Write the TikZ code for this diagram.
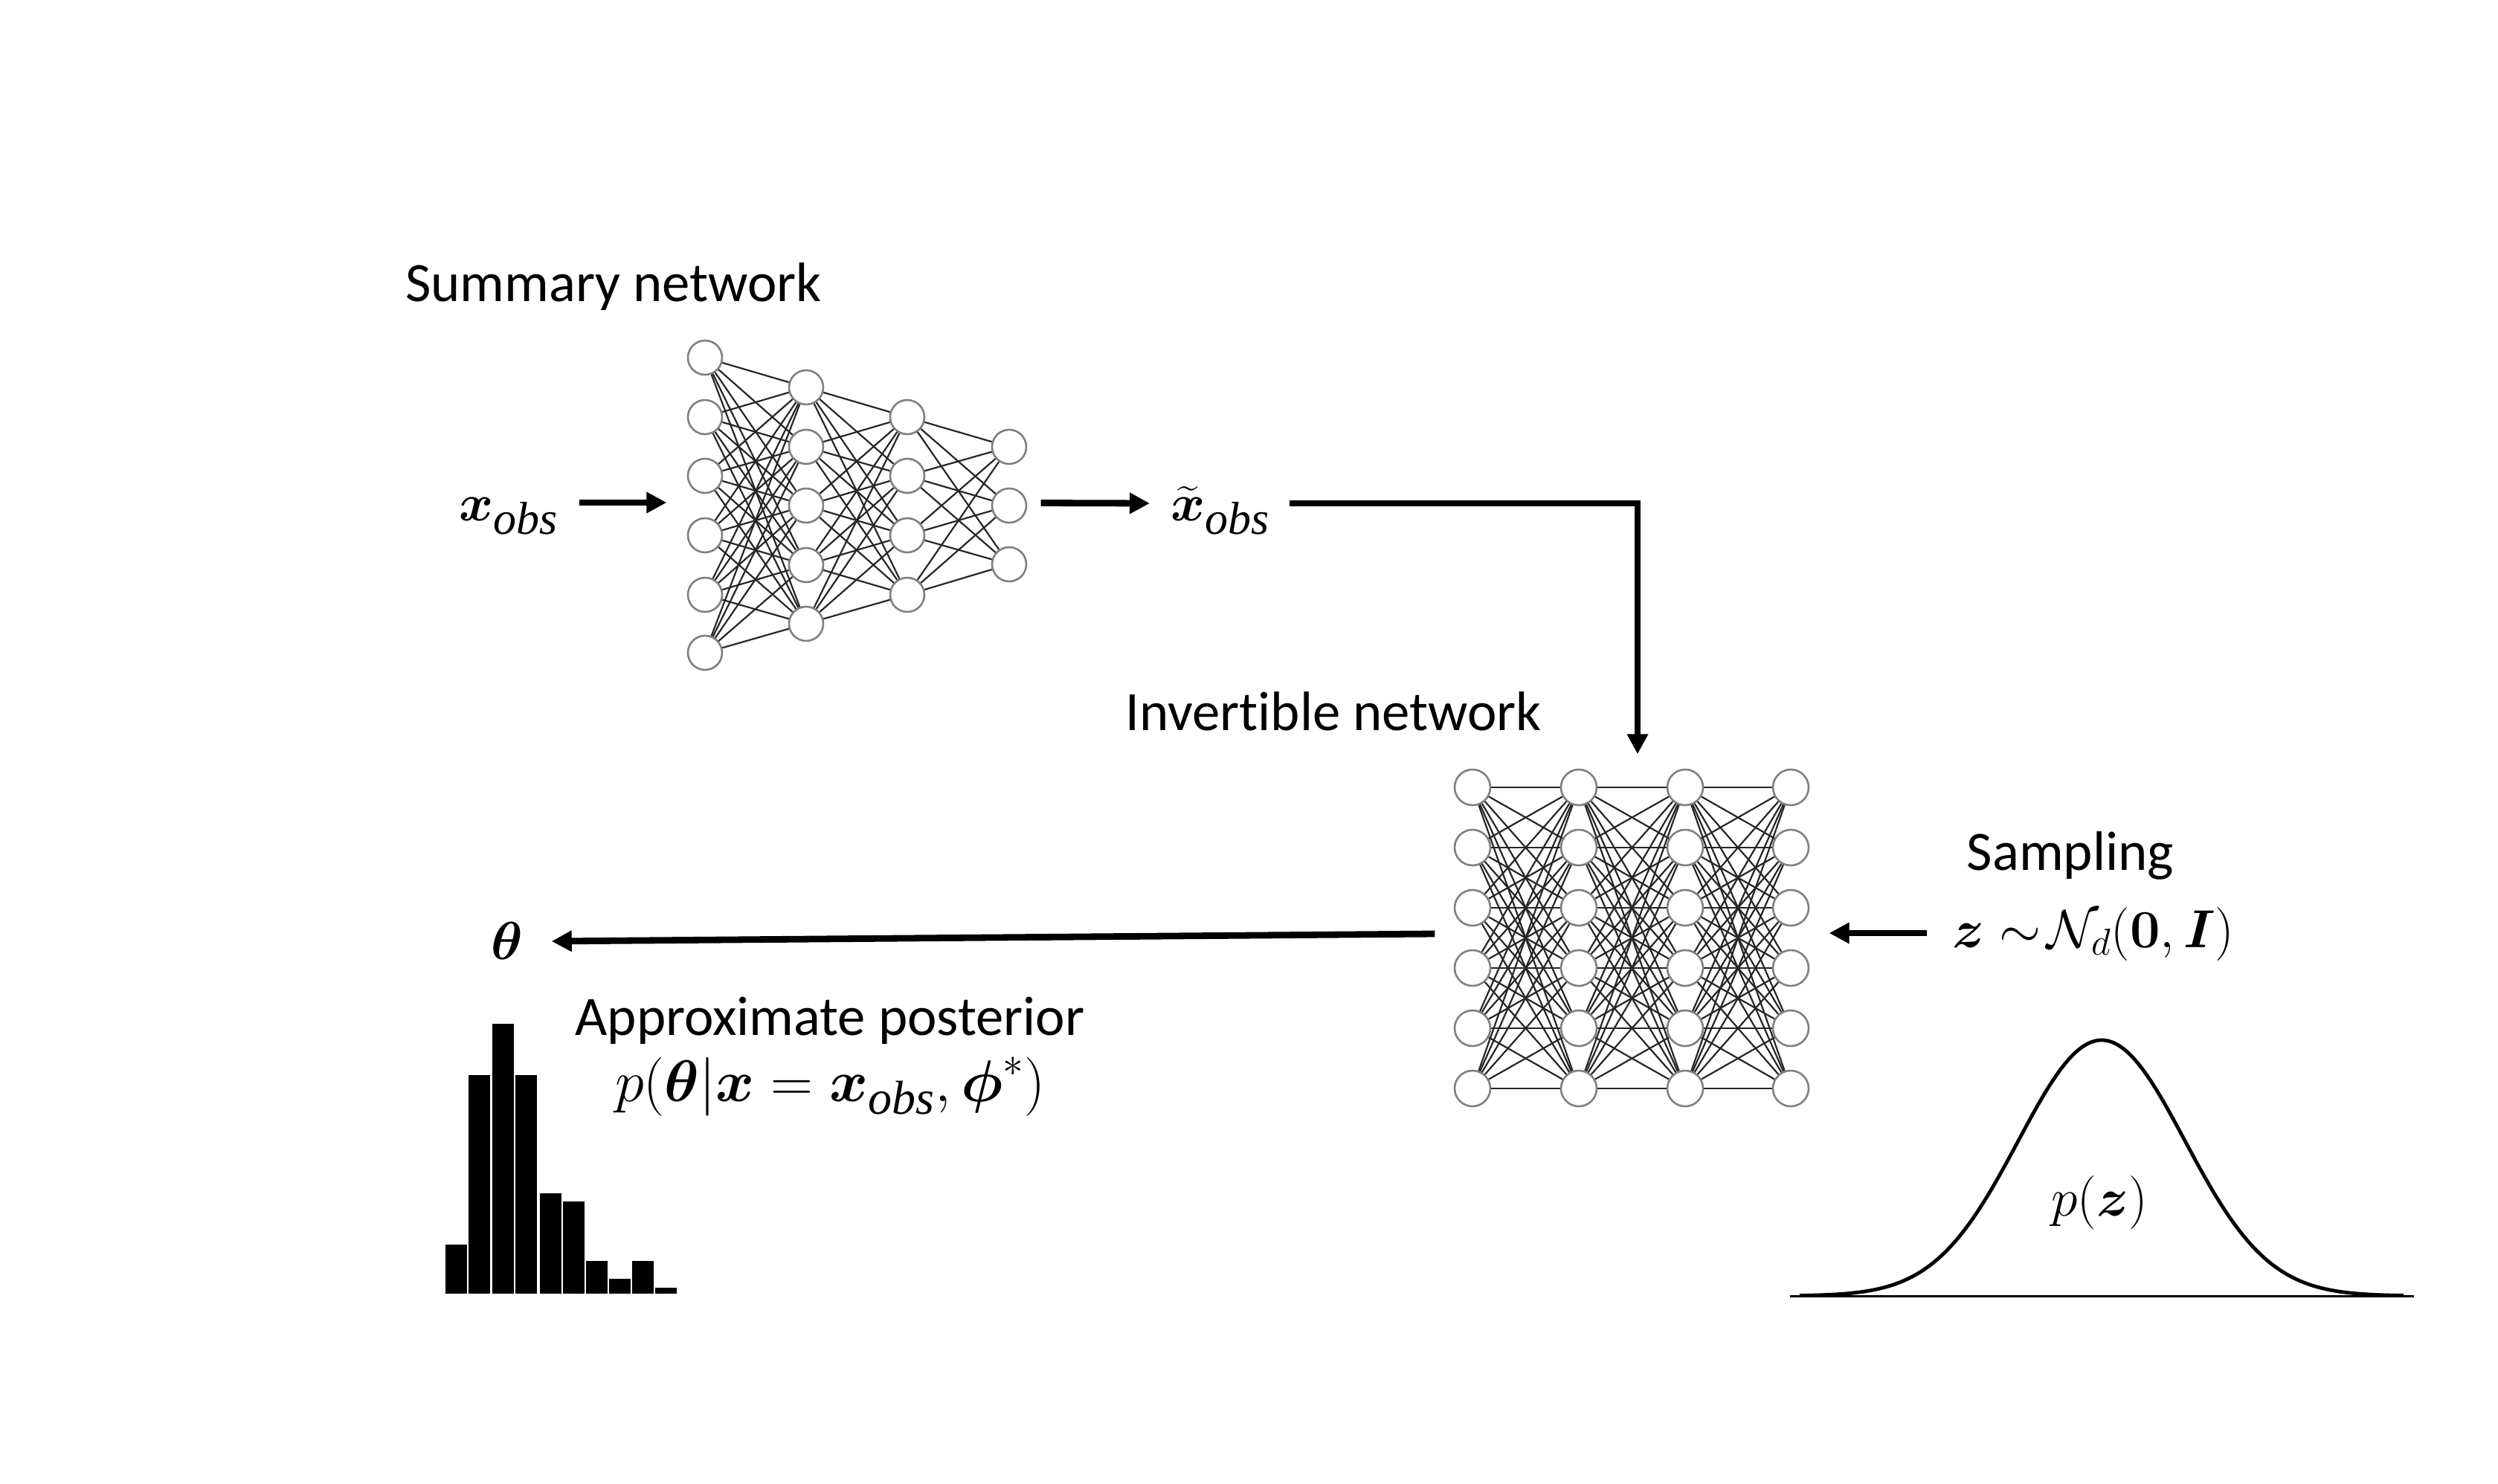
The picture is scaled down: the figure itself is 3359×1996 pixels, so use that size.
\RequirePackage{fix-cm}
\documentclass[tikz,border=0pt]{standalone}
\usepackage{amsmath}
\usepackage[no-math]{fontspec}
\setmainfont[Ligatures=CommonOff]{Carlito}
\newfontfamily\subfont{Liberation Serif}
\newcommand{\obsub}[1]{\text{\fontsize{#1}{#1}\subfont\itshape obs}}
\usetikzlibrary{arrows.meta,fit}
\tikzset{
  nn/.style={circle,draw=black!50,line width=1.3pt,fill=white,minimum size=23pt,inner sep=0pt},
  edge/.style={draw=black!85,line width=1.1pt},
  arr/.style={draw=black,line width=4.4pt,miter limit=10,-{Triangle[length=13.5pt,width=13.5pt]}},
  txt/.style={inner sep=0pt,anchor=base,font=\fontsize{37.4}{44}\selectfont},
  mth/.style={inner sep=0pt,anchor=base,font=\fontsize{36}{44}\selectfont},
  bar/.style={fill=black,draw=none},
  curve/.style={draw=black,line width=2.4pt,line join=round},
  axisline/.style={draw=black,line width=1.5pt},
  group/.style={inner sep=0pt,draw=none}
}
\begin{document}
\begin{tikzpicture}[x=0.5pt,y=-0.5pt]
\useasboundingbox (0,0) rectangle (3359,1996);
\fill[white] (0,0) rectangle (3359,1996);
% summary network nodes
\foreach \i/\y in {1/481,2/561,3/640,4/720,5/800,6/878} \node[nn] (a\i) at (948,\y) {};
\foreach \i/\y in {1/521,2/601,3/680,4/760,5/839} \node[nn] (b\i) at (1084,\y) {};
\foreach \i/\y in {1/561,2/640,3/720,4/800} \node[nn] (c\i) at (1220,\y) {};
\foreach \i/\y in {1/601,2/680,3/759} \node[nn] (d\i) at (1357,\y) {};
\foreach \i in {1,...,6} \foreach \j in {1,...,5} \draw[edge] (a\i) -- (b\j);
\foreach \i in {1,...,5} \foreach \j in {1,...,4} \draw[edge] (b\i) -- (c\j);
\foreach \i in {1,...,4} \foreach \j in {1,...,3} \draw[edge] (c\i) -- (d\j);
\node[group,fit=(a1)(a6)(d1)(d3)] (sumnet) {};
% invertible network nodes
\foreach \c/\x in {e/1992,f/2135,g/2278,h/2420}
  \foreach \i/\y in {1/1059,2/1140,3/1221,4/1302,5/1383,6/1464}
    \node[nn,minimum size=24pt] (\c\i) at (\x-12,\y) {};
\foreach \p/\q in {e/f,f/g,g/h}
  \foreach \i in {1,...,6} \foreach \j in {1,...,6} \draw[edge] (\p\i) -- (\q\j);
\node[group,fit=(e1)(e6)(h1)(h6)] (invnet) {};
% labels
\node[txt] (lsum) at (825,405) {Summary network};
\node[txt] (linv) at (1793,982) {Invertible network};
\node[txt] (lsamp) at (2784,1170) {Sampling};
\node[txt] (lpost) at (1116,1392) {Approximate posterior};
\node[mth,font=\fontsize{35}{44}\selectfont] (xobs) at (684,700) {$\boldsymbol{x}_{\obsub{31}}$};
\node[mth,font=\fontsize{35}{44}\selectfont] (xt) at (1641,700) {$\widetilde{\boldsymbol{x}}_{\obsub{31}}$};
\node[mth] (zs) at (2815,1274) {$\boldsymbol{z}\sim\!\mathcal{N}_d(\mathbf{0},\boldsymbol{I})$};
\node[mth] (pz) at (2823,1635) {$p(\boldsymbol{z})$};
\node[mth] (th) at (682,1290) {$\boldsymbol{\theta}$};
\node[mth,font=\fontsize{39.5}{44}\selectfont] (ppost) at (1116,1481) {$p(\boldsymbol{\theta}|\boldsymbol{x}=\boldsymbol{x}_{\obsub{32}},\boldsymbol{\phi}^{*})$};
% arrows
\draw[arr] ([shift={(28,-24)}]xobs.base east) -- ([shift={(-27,-3.5)}]sumnet.west);
\draw[arr] ([shift={(18,-3)}]sumnet.east) -- ([shift={(-28,-23)}]xt.base west);
\draw[arr] ([shift={(26,-23)}]xt.base east) -| ([shift={(8,-19)}]invnet.north);
\draw[arr] ([shift={(-25,-5.5)}]invnet.west) -- ([shift={(38,-24)}]th.base east);
\draw[arr] ([shift={(-35,-19)}]zs.base west) -- ([shift={(26,-6.5)}]invnet.east);
% histogram
\foreach \x/\t in {599/1674,630/1446,662/1377,693/1446,726/1605,757/1616,788/1696,819/1720,850/1696,881/1732}
  \fill[bar] (\x,\t) rectangle (\x+29,1740);
% gaussian
\draw[axisline] (2407,1743) -- (3246,1743);
\draw[curve] plot[domain=2420:3232,samples=140] (\x,{1743-344*exp(-0.5*pow((\x-2826)/112,2))});
\end{tikzpicture}
\end{document}
